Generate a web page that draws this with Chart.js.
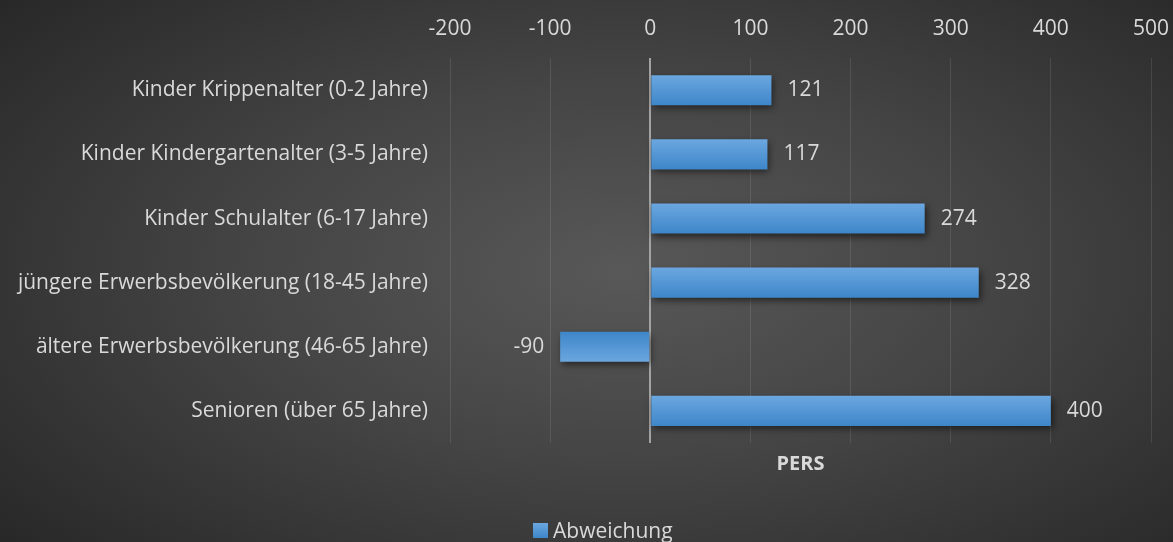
<!DOCTYPE html>
<html lang="de">
<head>
<meta charset="utf-8">
<title>Abweichung</title>
<script src="https://cdn.jsdelivr.net/npm/chart.js@4/dist/chart.umd.min.js"></script>
<style>
  html, body { margin: 0; padding: 0; }
  body {
    width: 1173px; height: 542px; overflow: hidden;
    background: radial-gradient(ellipse 72% 80% at 53% 50%, #585858 0%, #444444 45%, #262626 100%);
  }
  #wrap { position: relative; width: 1173px; height: 542px; }
  /* Legende (Excel-Stil, leicht rechts der Mitte) */
  #legend {
    position: absolute; left: 533px; top: 516px; height: 28px;
    display: flex; align-items: center;
    font: 21px "Open Sans", "Noto Sans", sans-serif; color: #d9d9d9;
  }
  #legend .box {
    width: 15px; height: 15px; margin-right: 5px;
    background: linear-gradient(#6ba7e0, #3e86c9);
  }
</style>
</head>
<body>
<div id="wrap">
  <canvas id="chart"></canvas>
  <div id="legend"><span class="box"></span><span id="legend-text"></span></div>
</div>
<script>
// Daten
const categories = [
    'Kinder Krippenalter (0-2 Jahre)',
    'Kinder Kindergartenalter (3-5 Jahre)',
    'Kinder Schulalter (6-17 Jahre)',
    'jüngere Erwerbsbevölkerung (18-45 Jahre)',
    'ältere Erwerbsbevölkerung (46-65 Jahre)',
    'Senioren (über 65 Jahre)'
];
const values = [121, 117, 274, 328, -90, 400];
const seriesName = 'Abweichung';
const axisTitle = 'PERS';
const xMin = -200;
const xMax = 500;
const xStep = 100;

const FONT = '"Open Sans", "Noto Sans", sans-serif';
const TEXT = '#d9d9d9';
const LEFT_PAD = 8;

document.getElementById('legend-text').textContent = seriesName;

// Balken-Verlauf (oben heller, bei negativen Werten umgekehrt)
function barFill(c) {
    const chart = c.chart;
    if (!chart.chartArea || c.dataIndex === undefined) return '#5b9bd5';
    const y = chart.scales.y.getPixelForValue(c.dataIndex);
    const g = chart.ctx.createLinearGradient(0, y - 15, 0, y + 15);
    const light = '#6ba7e0', dark = '#3e86c9';
    if (c.raw < 0) { g.addColorStop(0, dark); g.addColorStop(1, light); }
    else { g.addColorStop(0, light); g.addColorStop(1, dark); }
    return g;
}

// Schatten + Datenbeschriftung
const barExtras = {
    id: 'barExtras',
    beforeDatasetsDraw(chart) {
        const ctx = chart.ctx;
        ctx.save();
        ctx.shadowColor = 'rgba(0,0,0,0.55)';
        ctx.shadowBlur = 7;
        ctx.shadowOffsetX = 2;
        ctx.shadowOffsetY = 3;
    },
    afterDatasetsDraw(chart) {
        const ctx = chart.ctx;
        ctx.restore();
        ctx.save();
        ctx.font = '21px ' + FONT;
        ctx.fillStyle = TEXT;
        ctx.textBaseline = 'middle';
        chart.getDatasetMeta(0).data.forEach((el, i) => {
            const v = values[i];
            if (v < 0) { ctx.textAlign = 'right'; ctx.fillText(String(v), el.x - 16, el.y); }
            else { ctx.textAlign = 'left'; ctx.fillText(String(v), el.x + 16, el.y); }
        });
        ctx.restore();
    }
};

new Chart(document.getElementById('chart'), {
    type: 'bar',
    data: {
        labels: categories,
        datasets: [{
            label: seriesName,
            data: values,
            backgroundColor: barFill,
            borderWidth: 0,
            categoryPercentage: 1,
            barPercentage: 0.47
        }]
    },
    options: {
        indexAxis: 'y',
        responsive: true,
        maintainAspectRatio: false,
        animation: false,
        layout: { padding: { left: LEFT_PAD, right: 22, top: 14, bottom: 0 } },
        plugins: {
            tooltip: { enabled: false },
            legend: { display: false }
        },
        scales: {
            x: {
                position: 'top',
                min: xMin, max: xMax,
                ticks: { stepSize: xStep, color: TEXT, font: { family: FONT, size: 21 }, padding: 2 },
                grid: {
                    drawTicks: true,
                    tickLength: 15,
                    tickColor: 'transparent',
                    color: c => c.tick && c.tick.value === 0 ? '#a3a3a3' : 'rgba(255,255,255,0.1)',
                    lineWidth: c => c.tick && c.tick.value === 0 ? 2 : 1
                },
                border: { display: false }
            },
            x2: {
                type: 'linear',
                position: 'bottom',
                min: xMin, max: xMax,
                ticks: { display: false },
                grid: { display: false, drawTicks: false },
                border: { display: false },
                title: {
                    display: true, text: axisTitle, color: TEXT,
                    font: { family: FONT, size: 20, weight: 'bold' },
                    padding: { top: 9, bottom: 66 }
                }
            },
            y: {
                ticks: { color: TEXT, font: { family: FONT, size: 21 }, padding: 22 },
                grid: { display: false, drawTicks: false },
                border: { display: false },
                afterFit(scale) { scale.width = 450 - LEFT_PAD; }
            }
        }
    },
    plugins: [barExtras]
});
</script>
</body>
</html>
